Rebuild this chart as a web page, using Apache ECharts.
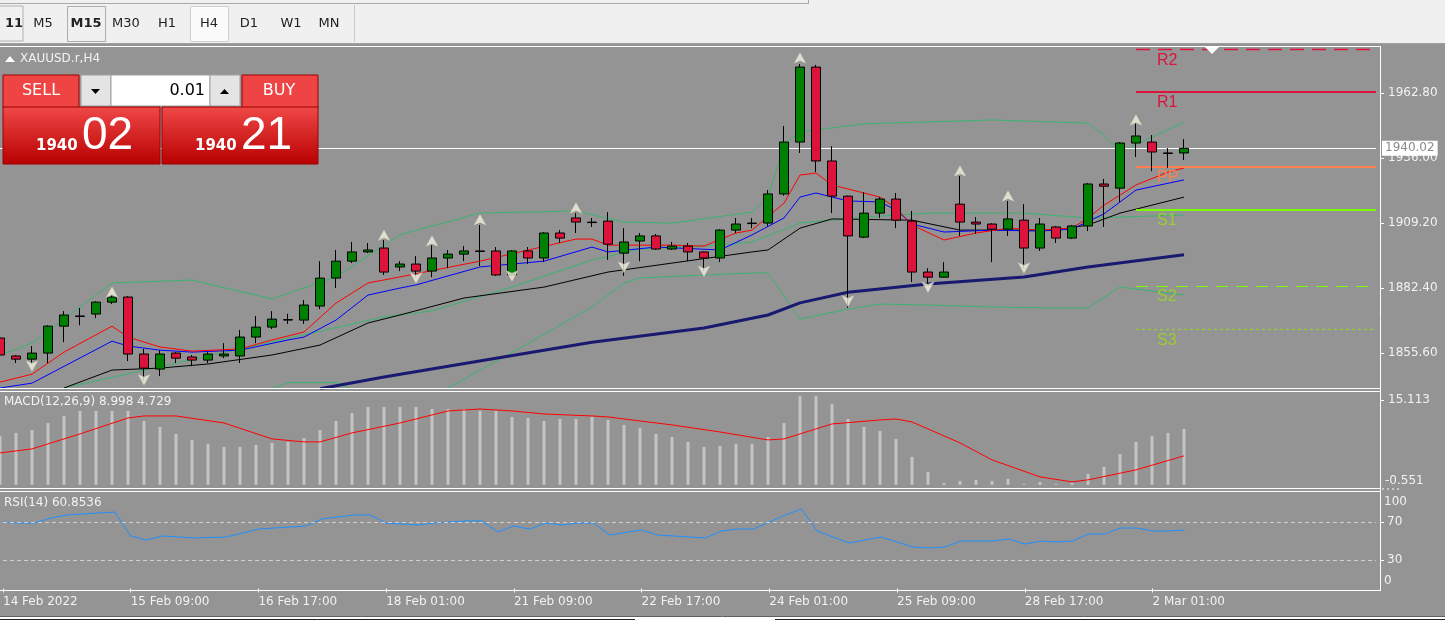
<!DOCTYPE html>
<html><head><meta charset="utf-8">
<script src="https://cdn.jsdelivr.net/npm/echarts@6/dist/echarts.min.js"></script>
<style>html,body{margin:0;padding:0;background:#949494}#c{width:1445px;height:623px}</style>
</head><body><div id="c"></div>
<script>
// ---- categories (H4 candles) ----
const days = ['14 Feb','15 Feb','16 Feb','17 Feb','18 Feb','21 Feb','22 Feb','23 Feb','24 Feb','25 Feb','28 Feb','1 Mar','2 Mar'];
const hours = ['01:00','05:00','09:00','13:00','17:00','21:00'];
const candleCount = 75;
const emptySlots = 12;
const categories = [];
for (const d of days) for (const h of hours) if (categories.length < candleCount) categories.push(d + ' ' + h);
for (let i = 0; i < emptySlots; i++) categories.push('');
const firstLabel = '14 Feb 2022';

// ---- OHLC: [open, close, low, high] ----
const candles = [
[1861.8,1854.8,1854.0,1862.6],[1854.4,1853.1,1851.5,1854.8],[1853.1,1855.6,1851.1,1858.5],[1855.6,1866.7,1851.5,1867.1],
[1866.7,1871.3,1860.1,1872.9],[1870.7,1870.9,1867.1,1874.2],[1871.7,1876.6,1870.0,1877.0],[1876.6,1878.7,1875.8,1879.5],
[1878.7,1855.2,1852.3,1879.1],[1855.2,1849.4,1844.1,1857.3],[1849.0,1855.2,1846.1,1856.8],[1855.6,1853.5,1851.5,1856.0],
[1854.0,1852.7,1850.2,1854.8],[1852.7,1855.2,1851.5,1856.0],[1854.4,1855.2,1853.5,1859.7],[1854.4,1862.2,1851.5,1865.1],
[1862.2,1866.3,1859.7,1870.9],[1866.3,1869.6,1865.5,1872.9],[1869.2,1869.4,1867.6,1871.8],[1869.2,1875.4,1867.6,1877.5],
[1875.0,1886.5,1873.7,1893.5],[1886.5,1893.5,1882.4,1898.1],[1893.5,1897.3,1892.7,1901.4],[1897.3,1898.1,1896.8,1901.0],
[1898.9,1889.0,1887.8,1902.2],[1891.1,1892.3,1889.4,1893.5],[1892.3,1889.4,1886.9,1895.6],[1889.4,1894.8,1886.9,1900.1],
[1894.8,1896.4,1890.6,1898.1],[1896.4,1897.7,1893.5,1899.7],[1897.7,1897.5,1891.5,1908.4],[1897.7,1887.8,1887.4,1899.3],
[1887.8,1897.7,1887.4,1898.1],[1897.7,1894.8,1892.3,1899.3],[1894.8,1905.1,1893.1,1905.5],[1905.1,1903.0,1901.0,1906.3],
[1911.3,1909.6,1905.1,1913.3],[1909.6,1909.4,1907.6,1911.3],[1910.0,1900.5,1894.0,1913.7],[1896.8,1901.4,1887.4,1907.1],
[1901.8,1903.9,1893.5,1905.1],[1903.9,1898.5,1898.1,1904.7],[1898.5,1899.7,1898.1,1901.4],[1899.7,1897.3,1893.5,1901.0],
[1897.3,1894.8,1889.4,1897.5],[1894.8,1906.3,1893.1,1906.7],[1906.3,1908.8,1905.1,1911.3],[1909.2,1909.0,1907.1,1911.3],
[1909.2,1921.2,1907.9,1922.8],[1921.2,1942.6,1920.5,1949.2],[1942.6,1973.5,1938.1,1974.8],[1973.5,1934.8,1930.2,1974.4],
[1934.8,1920.3,1913.3,1940.9],[1920.3,1903.9,1874.2,1920.5],[1903.4,1913.3,1903.0,1922.0],[1913.3,1919.1,1911.3,1919.9],
[1919.1,1910.4,1907.1,1921.6],[1910.0,1889.0,1884.9,1914.2],[1889.0,1886.9,1883.7,1890.6],[1886.9,1889.0,1886.7,1893.1],
[1917.0,1909.6,1903.9,1928.6],[1909.6,1908.8,1904.7,1911.7],[1908.8,1906.7,1893.1,1909.2],[1906.7,1910.9,1903.9,1918.3],
[1910.4,1898.9,1890.6,1917.0],[1898.9,1908.8,1897.7,1911.3],[1907.6,1903.0,1901.0,1908.0],[1903.0,1908.0,1902.6,1908.4],
[1908.0,1925.3,1905.9,1925.7],[1925.3,1924.4,1907.6,1927.4],[1923.6,1942.2,1917.9,1942.6],[1942.2,1945.1,1936.4,1950.4],
[1942.6,1938.5,1930.6,1945.5],[1938.1,1937.9,1931.9,1940.1],[1938.1,1940.0,1935.2,1943.8]
];
const lastPrice = 1940.02;

// ---- overlay lines, read at sample candles: [index, price] ----
const maRed = [[0,1843.6],[2,1846.9],[4,1856.0],[7,1866.7],[8,1862.2],[10,1858.1],[12,1856.4],[15,1857.3],[17,1861.0],[19,1864.3],[21,1876.2],[23,1884.5],[25,1887.0],[30,1893.5],[36,1902.6],[37,1902.6],[38,1900.1],[42,1900.1],[44,1899.7],[46,1905.1],[47,1906.3],[49,1917.4],[50,1929.0],[51,1929.8],[52,1924.9],[54,1921.6],[55,1919.9],[56,1915.4],[57,1908.4],[59,1902.2],[61,1905.1],[63,1907.1],[65,1906.3],[67,1907.1],[68,1911.3],[69,1916.6],[70,1920.7],[71,1924.9],[73,1930.2],[74,1931.9]];
const maBlue = [[0,1841.2],[2,1843.2],[7,1860.5],[8,1858.5],[10,1856.8],[12,1856.0],[15,1856.8],[18,1861.0],[19,1862.2],[21,1869.2],[23,1879.5],[25,1882.4],[26,1883.7],[30,1891.1],[34,1893.5],[37,1899.3],[38,1897.3],[41,1899.3],[45,1898.1],[47,1904.3],[49,1911.3],[50,1919.9],[51,1921.6],[53,1918.3],[55,1917.9],[56,1914.6],[57,1908.8],[59,1905.5],[62,1906.3],[65,1905.9],[67,1906.7],[69,1913.0],[71,1922.8],[74,1927.0]];
const maBlack = [[4,1841.2],[7,1848.6],[10,1849.4],[13,1851.1],[17,1854.8],[20,1858.9],[23,1868.0],[25,1871.3],[29,1878.3],[34,1882.8],[38,1889.0],[42,1892.7],[47,1897.3],[48,1898.1],[50,1907.1],[52,1910.9],[57,1910.4],[60,1906.3],[66,1906.3],[68,1908.4],[70,1913.3],[72,1916.6],[74,1919.9]];
const maNavy = [[20,1840.9],[24,1845.7],[31,1853.5],[37,1860.1],[44,1865.9],[48,1871.3],[50,1876.3],[53,1880.7],[58,1884.1],[64,1887.0],[68,1891.1],[74,1896.1]];
const bbUpper = [[0,1854.8],[2,1859.7],[7,1884.5],[12,1885.7],[17,1877.9],[21,1887.0],[25,1904.4],[30,1913.3],[36,1914.2],[39,1909.6],[42,1909.2],[47,1913.7],[48,1919.9],[49,1941.4],[50,1946.8],[54,1950.1],[62,1951.7],[68,1950.4],[69,1945.5],[70,1938.5],[74,1950.8]];
const bbMiddle = [[4,1841.2],[24,1870.5],[27,1873.0],[32,1882.8],[37,1893.9],[40,1898.5],[45,1900.1],[47,1901.4],[50,1909.2],[54,1911.7],[58,1913.3],[64,1913.3],[68,1911.3],[74,1912.5]];
const bbLower = [[17,1840.9],[18,1843.4],[21,1843.4],[23,1838.0],[26,1837.6],[28,1841.2],[32,1855.9],[37,1874.6],[39,1884.5],[40,1886.6],[47,1888.6],[48,1888.6],[50,1869.6],[53,1873.7],[55,1875.8],[58,1875.4],[62,1874.6],[66,1874.2],[68,1874.2],[70,1882.8],[71,1882.0],[74,1879.5]];

// ---- fractals ----
const fractalUp = [[7,1883.2],[24,1906.7],[27,1904.3],[30,1913.0],[36,1917.9],[50,1979.7],[60,1933.1],[63,1922.8],[71,1954.2]];
const fractalDown = [[2,1847.8],[9,1842.1],[26,1884.1],[32,1884.9],[39,1888.6],[44,1886.9],[53,1874.6],[58,1880.3],[64,1888.2]];

// ---- pivot levels ----
const pivotNames = ['R2','R1','PP','S1','S2','S3'];
const pivotValues = [1980.8,1963.3,1932.4,1914.6,1883.3,1865.4];
const pivotStart = 71, pivotEnd = 86;

// ---- MACD ----
const macdHist = [8.71,9.25,9.78,11.02,12.27,13.16,13.16,13.16,13.16,11.38,10.31,9.07,8.00,7.29,6.76,6.76,7.11,7.47,7.65,8.36,9.78,11.38,12.80,13.87,13.87,13.87,13.87,13.51,13.51,13.51,13.16,13.16,12.09,11.91,11.38,11.73,11.73,12.09,11.56,
10.67,10.13,9.07,8.53,7.65,6.76,6.94,7.29,7.29,8.53,11.02,15.82,15.82,14.40,11.73,10.31,9.60,8.18,4.98,2.31,0.36,0.71,0.89,0.71,1.07,0.18,0.53,0.18,0.36,1.96,3.20,5.51,7.65,8.71,9.25,9.96];
const macdSignal = [[0,5.69],[2,6.40],[5,9.07],[8,11.91],[9,12.27],[11,12.27],[14,11.02],[17,8.18],[19,7.65],[20,7.65],[22,9.25],[25,11.02],[28,13.16],[30,13.51],[32,13.16],[34,12.62],[37,12.27],[38,12.09],[42,10.67],[45,9.42],[48,8.00],[49,8.18],[52,10.85],[55,11.56],[56,11.73],[57,11.20],[60,7.47],[62,4.45],[65,1.42],[67,0.53],[68,0.89],[71,2.67],[74,5.16]];
const macdTicks = [15.113];

// ---- RSI ----
const rsi = [[0,70.0],[1,68.9],[2,68.9],[3,74.2],[4,77.4],[6,79.5],[7,80.5],[8,55.3],[9,51.1],[10,55.3],[12,53.2],[14,54.2],[16,62.6],[17,63.7],[19,65.8],[20,73.2],[22,77.4],[23,77.4],[24,68.9],[26,66.8],[27,68.9],[29,71.1],[30,71.1],[31,59.5],[32,65.8],[33,62.6],[34,68.9],[35,66.8],[36,68.9],[37,68.9],[38,56.3],[40,61.6],[41,56.3],[44,53.2],[45,60.5],[46,62.6],[47,62.6],[49,77.4],[50,83.7],[51,60.5],[53,47.9],[55,54.2],[57,43.7],[58,42.6],[59,43.7],[60,50.0],[62,50.0],[63,52.1],[64,46.8],[65,50.0],[66,48.9],[67,50.0],[68,57.4],[69,57.4],[70,63.7],[71,63.7],[72,60.5],[73,60.5],[74,61.6]];
const rsiLevels = [70, 30];

// ---- price axis ticks ----
const priceTicks = [1962.80, 1936.00, 1909.20, 1882.40, 1855.60];

const FONT = 'DejaVu Sans';
const TXT = '#f2f2f2';
const chart = echarts.init(document.getElementById('c'));
const gridX = {left: 0, right: 69};
const catAxis = (gi, show) => ({
  type: 'category', gridIndex: gi, data: categories, boundaryGap: false,
  axisLine: {show: false},
  axisTick: {show: show, length: 4, lineStyle: {color: '#fff'}, interval: (i) => i % 8 === 0 && i < candleCount},
  axisLabel: {show: show, interval: (i) => i % 8 === 0 && i < candleCount, align: 'left', margin: 6, color: TXT, fontFamily: FONT, fontSize: 12,
    formatter: (v, i) => i === 0 ? firstLabel : v}
});
const lineS = (data, color, w) => ({type: 'line', xAxisIndex: 0, yAxisIndex: 0, data, symbol: 'none', lineStyle: {color, width: w}, silent: true, z: 2});

const pivotColors = ['#dc143c','#dc143c','#ff7f50','#7cfc00','#7cfc00','#9acd32'];
const pivotLine = [{type:[14,8],width:1.3},{type:'solid',width:2},{type:'solid',width:2},{type:'solid',width:2},{type:[12,8],width:1.2},{type:[3,3],width:1.3}];
const pivotLabelColors = ['#dc143c','#dc143c','#ff7f50','#9acd32','#9acd32','#9acd32'];

const tickStyle = {show: true, length: 8, lineStyle: {color: '#fff'}};
const option = {
  backgroundColor: '#949494',
  animation: false,
  grid: [
    {left: gridX.left, right: gridX.right, top: 46, height: 342},
    {left: gridX.left, right: gridX.right, top: 392, height: 96},
    {left: gridX.left, right: gridX.right, top: 492, height: 98}
  ],
  xAxis: [catAxis(0, false), catAxis(1, false), catAxis(2, true)],
  yAxis: [
    {type: 'value', gridIndex: 0, position: 'right', min: 1841.2, max: 1982.2, splitLine: {show: false}, axisLine: {show: false},
     axisTick: Object.assign({customValues: priceTicks}, tickStyle),
     axisLabel: {customValues: priceTicks, formatter: (v) => v.toFixed(2), color: TXT, fontFamily: FONT, fontSize: 12, margin: 12}},
    {type: 'value', gridIndex: 1, position: 'right', min: -0.56, max: 16.535, splitLine: {show: false}, axisLine: {show: false},
     axisTick: Object.assign({customValues: macdTicks}, tickStyle),
     axisLabel: {customValues: macdTicks, formatter: (v) => v.toFixed(3), color: TXT, fontFamily: FONT, fontSize: 12, margin: 12}},
    {type: 'value', gridIndex: 2, position: 'right', min: -1.58, max: 101.58, splitLine: {show: false}, axisLine: {show: false},
     axisTick: Object.assign({customValues: rsiLevels}, tickStyle),
     axisLabel: {customValues: rsiLevels, color: TXT, fontFamily: FONT, fontSize: 12, margin: 11}}
  ],
  series: [
    lineS(bbUpper, '#3cb371', 1), lineS(bbMiddle, '#3cb371', 1), lineS(bbLower, '#3cb371', 1),
    lineS(maNavy, '#191970', 3), lineS(maBlack, '#000000', 1), lineS(maBlue, '#0000ff', 1), lineS(maRed, '#ff0000', 1),
    {type: 'candlestick', xAxisIndex: 0, yAxisIndex: 0, data: candles, barWidth: 10, z: 5,
     itemStyle: {color: '#008000', color0: '#dc143c', borderColor: '#000', borderColor0: '#000', borderWidth: 1},
     markLine: {silent: true, symbol: 'none', lineStyle: {color: '#ffffff', width: 1, type: 'solid'},
       label: {position: 'end', formatter: () => lastPrice.toFixed(2), backgroundColor: '#ffffff', color: '#8a8a8a', fontFamily: FONT, fontSize: 12, padding: [2, 3, 1, 3], distance: 6},
       data: [{yAxis: lastPrice}]}},
    {type: 'scatter', xAxisIndex: 0, yAxisIndex: 0, data: fractalUp, symbol: 'arrow', symbolSize: [10, 12], z: 6,
     itemStyle: {color: '#f3efdc', borderColor: '#8a8a80', borderWidth: 0.5}},
    {type: 'scatter', xAxisIndex: 0, yAxisIndex: 0, data: fractalDown, symbol: 'arrow', symbolSize: [10, 12], symbolRotate: 180, z: 6,
     itemStyle: {color: '#f3efdc', borderColor: '#8a8a80', borderWidth: 0.5}},
    {type: 'line', xAxisIndex: 0, yAxisIndex: 0, data: [], z: 4,
     markLine: {silent: true, symbol: 'none',
       data: pivotValues.map((v, k) => [{coord: [pivotStart, v], lineStyle: Object.assign({color: pivotColors[k], opacity: 1}, pivotLine[k]),
         label: {show: true, position: 'insideStartBottom', formatter: pivotNames[k], color: pivotLabelColors[k], opacity: 1, fontFamily: 'Liberation Sans', fontSize: 16, distance: [21, 3], textBorderWidth: 0}},
         {coord: [pivotEnd, v]}])}},
    {type: 'bar', xAxisIndex: 1, yAxisIndex: 1, data: macdHist, barWidth: 3, itemStyle: {color: '#c4c4c4'}},
    {type: 'line', xAxisIndex: 1, yAxisIndex: 1, data: macdSignal, symbol: 'none', lineStyle: {color: '#ff0000', width: 1}},
    {type: 'line', xAxisIndex: 2, yAxisIndex: 2, data: rsi, symbol: 'none', lineStyle: {color: '#1e90ff', width: 1},
     markLine: {silent: true, symbol: 'none', label: {show: false}, lineStyle: {color: '#d0d0d0', type: [4, 3], width: 1},
       data: rsiLevels.map(v => ({yAxis: v}))}}
  ],
  graphic: []
};

const G = option.graphic;
const wline = (x1, y1, x2, y2, c, w) => G.push({type: 'line', shape: {x1, y1, x2, y2}, style: {stroke: c || '#fff', lineWidth: w || 1}, z: 50});
const txt = (x, y, t, o) => G.push(Object.assign({type: 'text', x, y, z: 60, style: Object.assign({text: t, fill: TXT, font: '12px ' + FONT, textVerticalAlign: 'middle'}, (o || {}))}));
G.push({type: 'rect', shape: {x: 1376, y: 46, width: 4, height: 545}, style: {fill: '#949494'}, z: 45});
wline(0, 46.5, 1380, 46.5); wline(0, 388.5, 1380, 388.5); wline(0, 391.5, 1380, 391.5);
wline(0, 488.5, 1380, 488.5); wline(0, 491.5, 1380, 491.5); wline(0, 590.5, 1380, 590.5);
wline(1380.5, 46, 1380.5, 591);
txt(1385, 481, '-0.551'); txt(1384, 502, '100'); txt(1384, 581, '0');
G.push({type: 'line', shape: {x1: 1382, y1: 489, x2: 1400, y2: 489}, style: {stroke: '#fff', lineDash: [2, 3], lineWidth: 1}, z: 50});
G.push({type: 'polygon', shape: {points: [[1205, 47], [1219, 47], [1212, 54]]}, style: {fill: '#fff'}, z: 50});
G.push({type: 'polygon', shape: {points: [[5, 62], [15, 62], [10, 56]]}, style: {fill: '#fff'}, z: 60});
txt(20, 59, 'XAUUSD.r,H4');
txt(4, 402, 'MACD(12,26,9) 8.998 4.729');
txt(4, 503, 'RSI(14) 60.8536');
G.push({type: 'rect', shape: {x: 0, y: 0, width: 1445, height: 43}, style: {fill: '#f0f0f0'}, z: 40});
wline(0, 43.5, 1445, 43.5, '#a0a0a0');
wline(0, 3.5, 808, 3.5, '#a9a9a9');
wline(808.5, 0, 808.5, 4, '#a9a9a9');
G.push({type: 'rect', shape: {x: -2, y: 6, width: 25, height: 35}, style: {fill: '#f0f0f0', stroke: '#b0b0b0'}, z: 41});
G.push({type: 'rect', shape: {x: 67.5, y: 6.5, width: 38, height: 35}, style: {fill: '#f0f0f0', stroke: '#adadad'}, z: 41});
G.push({type: 'rect', shape: {x: 190.5, y: 6.5, width: 38, height: 35}, style: {fill: '#fbfbfb', stroke: '#d0d0d0'}, z: 41});
wline(354.5, 5, 354.5, 42, '#c8c8c8');
const tb = [['11', 5, false], ['M5', 43, true], ['M15', 86, true], ['M30', 126, true], ['H1', 167, true], ['H4', 209, true], ['D1', 249, true], ['W1', 291, true], ['MN', 329, true]];
tb.forEach(([t, x, c]) => txt(x, 24, t, {fill: '#222', font: (t === 'M15' || t === '11' ? 'bold ' : '') + '13px ' + FONT, textAlign: c ? 'center' : 'left'}));
const redGrad = {type: 'linear', x: 0, y: 0, x2: 0, y2: 1, colorStops: [{offset: 0, color: '#f04848'}, {offset: 1, color: '#b80000'}]};
G.push({type: 'rect', shape: {x: 3, y: 75, width: 76, height: 33}, style: {fill: '#ee4444', stroke: '#a00000'}, z: 60});
G.push({type: 'rect', shape: {x: 242, y: 75, width: 76, height: 33}, style: {fill: '#ee4444', stroke: '#a00000'}, z: 60});
G.push({type: 'rect', shape: {x: 81, y: 75, width: 30, height: 31}, style: {fill: '#e4e4e4', stroke: '#a0a0a0'}, z: 60});
G.push({type: 'rect', shape: {x: 111, y: 75, width: 99, height: 31}, style: {fill: '#ffffff', stroke: '#a0a0a0'}, z: 60});
G.push({type: 'rect', shape: {x: 210, y: 75, width: 30, height: 31}, style: {fill: '#e4e4e4', stroke: '#a0a0a0'}, z: 60});
G.push({type: 'polygon', shape: {points: [[91, 89], [100, 89], [95.5, 94]]}, style: {fill: '#000'}, z: 61});
G.push({type: 'polygon', shape: {points: [[220, 94], [229, 94], [224.5, 89]]}, style: {fill: '#000'}, z: 61});
txt(205, 91, '0.01', {fill: '#000', font: '16px ' + FONT, textAlign: 'right'});
txt(41, 91, 'SELL', {fill: '#fff', font: '16px ' + FONT, textAlign: 'center'});
txt(279, 91, 'BUY', {fill: '#fff', font: '16px ' + FONT, textAlign: 'center'});
wline(7, 106.5, 75, 106.5, '#b00000'); wline(246, 106.5, 314, 106.5, '#b00000');
G.push({type: 'rect', shape: {x: 3, y: 107, width: 157, height: 57}, style: {fill: redGrad, stroke: '#a00000'}, z: 60});
G.push({type: 'rect', shape: {x: 162, y: 107, width: 156, height: 57}, style: {fill: redGrad, stroke: '#a00000'}, z: 60});
txt(36, 146, '1940', {fill: '#fff', font: 'bold 15px ' + FONT});
txt(82, 136, '02', {fill: '#fff', font: '46px Liberation Sans'});
txt(195, 146, '1940', {fill: '#fff', font: 'bold 15px ' + FONT});
txt(241, 136, '21', {fill: '#fff', font: '46px Liberation Sans'});
G.push({type: 'rect', shape: {x: 0, y: 616, width: 1445, height: 7}, style: {fill: '#ffffff'}, z: 40});
wline(0, 616.5, 1445, 616.5, '#606060');
wline(0, 619.5, 635, 619.5, '#202020'); wline(775, 619.5, 1445, 619.5, '#202020');

chart.setOption(option);
</script></body></html>
